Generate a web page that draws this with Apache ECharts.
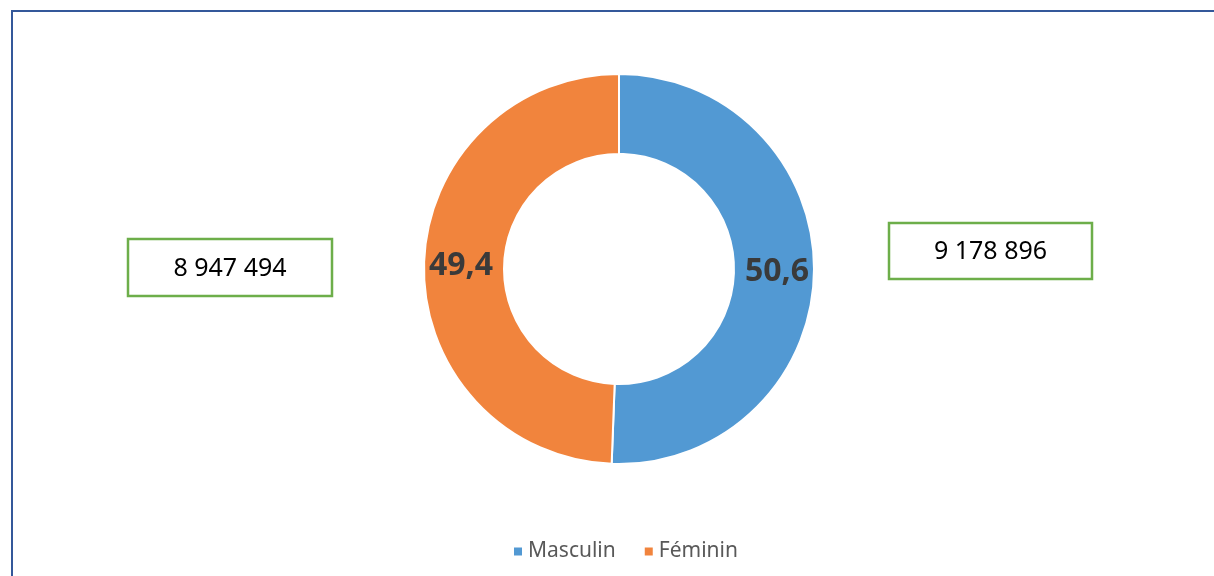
<!DOCTYPE html>
<html>
<head>
<meta charset="utf-8">
<script src="https://cdn.jsdelivr.net/npm/echarts@6/dist/echarts.min.js"></script>
<style>
  html, body { margin: 0; padding: 0; background: #fff; }
  #chart { width: 1214px; height: 576px; }
</style>
</head>
<body>
<div id="chart"></div>
<script>
const categories = ["Masculin", "Féminin"];
const percentages = [50.6, 49.4];
const populations = [9178896, 8947494];
const colors = ["#5299D3", "#F1843D"];

const fmtPct = (v) => v.toFixed(1).replace(".", ",");
const fmtPop = (v) => String(v).replace(/\B(?=(\d{3})+(?!\d))/g, " ");

// callout boxes: [left, top, width, height] for each category
const boxes = [
  [889, 223, 203, 56],
  [128, 239, 204, 57],
];

const chart = echarts.init(document.getElementById("chart"));

const graphics = [
  {
    type: "rect",
    shape: { x: 12, y: 11, width: 1220, height: 600 },
    style: { fill: "none", stroke: "#34589A", lineWidth: 2 },
    silent: true,
  },
];
boxes.forEach((b, i) => {
  graphics.push({
    type: "rect",
    shape: { x: b[0], y: b[1], width: b[2], height: b[3] },
    style: { fill: "#fff", stroke: "#6DAE4A", lineWidth: 2.5 },
  });
  graphics.push({
    type: "text",
    x: b[0] + b[2] / 2,
    y: b[1] + b[3] / 2 + 1,
    style: {
      text: fmtPop(populations[i]),
      fill: "#000",
      font: "25px 'Noto Sans'",
      align: "center",
      verticalAlign: "middle",
    },
  });
});

chart.setOption({
  animation: false,
  color: colors,
  legend: {
    data: categories,
    bottom: 14,
    left: 512,
    padding: 0,
    icon: "rect",
    itemWidth: 10,
    itemHeight: 10,
    itemGap: 27,
    textStyle: {
      color: "#595959",
      fontSize: 21,
      fontFamily: "Noto Sans",
    },
  },
  graphic: graphics,
  series: [
    {
      type: "pie",
      center: [619, 269],
      radius: [115, 195],
      startAngle: 90,
      clockwise: true,
      itemStyle: { borderColor: "#fff", borderWidth: 2 },
      label: {
        position: "inside",
        formatter: (p) => fmtPct(p.value),
        color: "#3A3A3A",
        fontSize: 32,
        fontWeight: "bold",
        fontFamily: "Noto Sans",
        padding: [7, 0, 0, 0],
      },
      labelLine: { show: false },
      emphasis: { disabled: true },
      data: categories.map((name, i) => ({ name, value: percentages[i] })),
    },
  ],
});
</script>
</body>
</html>
